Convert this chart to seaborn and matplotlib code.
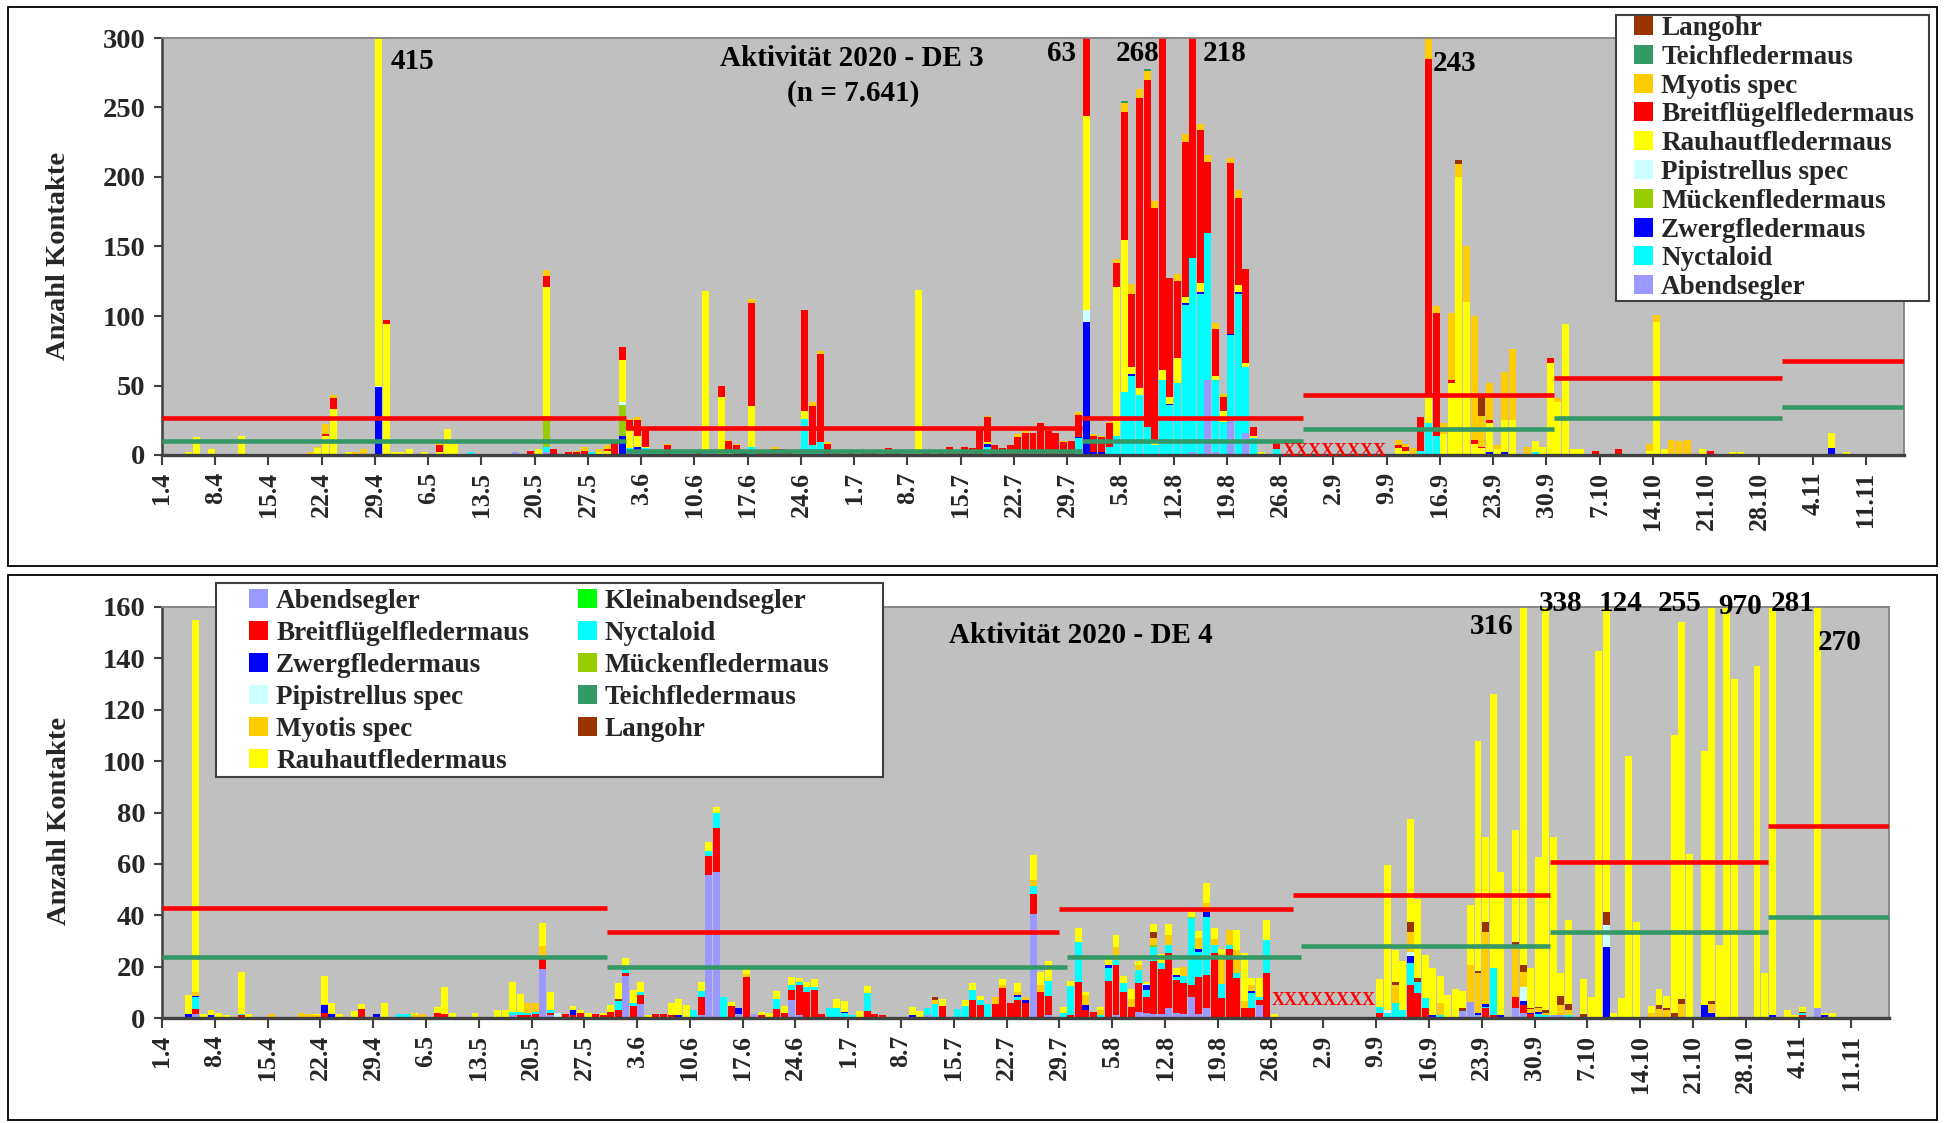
import numpy as np
import pandas as pd
import matplotlib
matplotlib.use("Agg")
import matplotlib.pyplot as plt
import seaborn as sns
from matplotlib.patches import Patch, Rectangle

sns.set_theme(style="white")
plt.rcParams['font.family'] = ['Liberation Serif', 'DejaVu Serif']
plt.rcParams['font.weight'] = 'bold'

# ---------------- categories ----------------
DATES = [f"{d.day}.{d.month}" for d in pd.date_range("2020-04-01", "2020-11-15")]
N = len(DATES)
TICK_LABELS = DATES[::7]

COLORS = {
    "Abendsegler": "#9999FF",
    "Kleinabendsegler": "#00FF00",
    "Breitflügelfledermaus": "#FF0000",
    "Nyctaloid": "#00FFFF",
    "Zwergfledermaus": "#0000FF",
    "Mückenfledermaus": "#99CC00",
    "Pipistrellus spec": "#CCFFFF",
    "Teichfledermaus": "#339966",
    "Myotis spec": "#FFCC00",
    "Langohr": "#993300",
    "Rauhautfledermaus": "#FFFF00",
}

# ---------------- DE 3 data (daily contacts) ----------------
DE3_ABENDSEGLER = {"3.5": 1, "17.5": 2, "21.5": 2, "1.6": 2, "5.6": 1, "8.6": 1, "12.6": 2, "4.8": 1,
                   "14.8": 2, "16.8": 54, "17.8": 2, "19.8": 27, "21.8": 16}
DE3_NYCTALOID = {"5.4": 1, "11.4": 0.5, "22.4": 1, "23.4": 1, "7.5": 1, "11.5": 2, "20.5": 1, "21.5": 4,
                 "27.5": 2, "1.6": 3, "2.6": 3, "3.6": 5, "4.6": 2, "5.6": 1, "7.6": 2, "11.6": 2, "17.6": 6,
                 "23.6": 1, "24.6": 26, "25.6": 7, "26.6": 9, "29.6": 1, "7.7": 1, "11.7": 1, "18.7": 6,
                 "30.7": 12, "3.8": 6, "4.8": 13, "5.8": 45, "6.8": 57, "7.8": 43, "8.8": 20, "9.8": 7,
                 "10.8": 54, "11.8": 36, "12.8": 52, "13.8": 108, "14.8": 140, "15.8": 116, "16.8": 106,
                 "17.8": 52, "18.8": 24, "19.8": 59, "20.8": 116, "21.8": 47, "22.8": 12, "25.8": 4,
                 "13.9": 3, "14.9": 23, "15.9": 14, "28.9": 2}
DE3_ZWERG = {"7.4": 1, "28.4": 1, "29.4": 49, "8.5": 1, "9.5": 1, "22.5": 1, "31.5": 14, "2.6": 3, "16.6": 3,
             "18.7": 2, "30.7": 1, "31.7": 96, "1.8": 2, "2.8": 2, "6.8": 1, "11.8": 1, "13.8": 1, "15.8": 1,
             "19.8": 1, "20.8": 1, "16.9": 1, "18.9": 1, "22.9": 2, "24.9": 2, "6.10": 1, "9.10": 1, "6.11": 5}
DE3_MUECKEN = {"21.5": 22, "31.5": 22}
DE3_PIPISTRELLUS = {"29.4": 1, "31.5": 2, "31.7": 8}
DE3_RAUHAUT = {"4.4": 2, "5.4": 12, "7.4": 3, "11.4": 13, "21.4": 5, "22.4": 13, "23.4": 32, "25.4": 2,
               "27.4": 1, "29.4": 365, "30.4": 94, "1.5": 2, "2.5": 2, "3.5": 3, "5.5": 2, "7.5": 1,
               "8.5": 18, "9.5": 7, "20.5": 3, "21.5": 93, "28.5": 2, "29.5": 3, "31.5": 30, "1.6": 13,
               "2.6": 8, "3.6": 1, "6.6": 1, "9.6": 1, "11.6": 116, "13.6": 42, "14.6": 3, "17.6": 29,
               "21.6": 1, "24.6": 6, "9.7": 119, "13.7": 1, "16.7": 1, "18.7": 1, "20.7": 1, "24.7": 1,
               "31.7": 140, "4.8": 107, "5.8": 110, "6.8": 5, "7.8": 5, "9.8": 2, "10.8": 7, "11.8": 5,
               "12.8": 18, "13.8": 5, "15.8": 7, "17.8": 3, "18.8": 8, "20.8": 5, "21.8": 3, "22.8": 2,
               "23.8": 2, "10.9": 5, "11.9": 3, "12.9": 1, "14.9": 19, "16.9": 14, "17.9": 52, "18.9": 199,
               "19.9": 110, "20.9": 8, "21.9": 5, "22.9": 21, "23.9": 4, "24.9": 23, "25.9": 25, "28.9": 8,
               "29.9": 6, "30.9": 66, "1.10": 38, "2.10": 94, "3.10": 4, "4.10": 4, "13.10": 3,
               "14.10": 96, "15.10": 4, "16.10": 1, "20.10": 4, "21.10": 1, "24.10": 2, "25.10": 2,
               "6.11": 11, "8.11": 2}
DE3_BREITFLUEGEL = {"22.4": 1, "23.4": 8, "30.4": 3, "7.5": 5, "19.5": 3, "21.5": 8, "22.5": 3, "24.5": 2,
                    "25.5": 2, "26.5": 3, "29.5": 1, "30.5": 10, "31.5": 10, "1.6": 7, "2.6": 11, "3.6": 13,
                    "6.6": 6, "10.6": 3, "13.6": 8, "14.6": 7, "15.6": 7, "17.6": 74, "18.6": 3, "19.6": 2,
                    "20.6": 4, "21.6": 3, "22.6": 2, "24.6": 72, "25.6": 28, "26.6": 64, "27.6": 8,
                    "28.6": 3, "30.6": 2, "2.7": 2, "3.7": 2, "5.7": 5, "6.7": 2, "10.7": 3, "12.7": 3,
                    "13.7": 5, "14.7": 3, "15.7": 6, "16.7": 4, "17.7": 18, "18.7": 18, "19.7": 7,
                    "20.7": 4, "21.7": 7, "22.7": 13, "23.7": 16, "24.7": 15, "25.7": 23, "26.7": 17,
                    "27.7": 16, "28.7": 9, "29.7": 10, "30.7": 16, "31.7": 63, "1.8": 12, "2.8": 11,
                    "3.8": 17, "4.8": 17, "5.8": 92, "6.8": 53, "7.8": 209, "8.8": 250, "9.8": 169,
                    "10.8": 268, "11.8": 85, "12.8": 55, "13.8": 111, "14.8": 218, "15.8": 110, "16.8": 51,
                    "17.8": 34, "18.8": 10, "19.8": 123, "20.8": 63, "21.8": 68, "22.8": 6, "25.8": 5,
                    "10.9": 2, "11.9": 3, "13.9": 24, "14.9": 243, "15.9": 88, "17.9": 2, "20.9": 3,
                    "21.9": 1, "22.9": 2, "30.9": 4, "6.10": 2, "9.10": 3, "18.10": 1, "21.10": 2}
DE3_MYOTIS = {"20.4": 2, "21.4": 1, "22.4": 7, "23.4": 2, "26.4": 2, "27.4": 3, "7.5": 2, "21.5": 4,
              "25.5": 1, "26.5": 3, "28.5": 2, "29.5": 3, "1.6": 1, "2.6": 2, "6.6": 1, "14.6": 1, "15.6": 1,
              "17.6": 3, "20.6": 2, "25.6": 3, "26.6": 2, "27.6": 1, "18.7": 1, "22.7": 2, "23.7": 2,
              "28.7": 1, "30.7": 2, "1.8": 1, "2.8": 1, "3.8": 1, "4.8": 3, "5.8": 6, "6.8": 7, "7.8": 6,
              "8.8": 6, "9.8": 5, "12.8": 5, "13.8": 6, "15.8": 4, "16.8": 5, "17.8": 4, "18.8": 2,
              "19.8": 4, "20.8": 6, "10.9": 4, "11.9": 2, "12.9": 4, "14.9": 20, "15.9": 5, "16.9": 8,
              "17.9": 48, "18.9": 9, "19.9": 40, "20.9": 89, "21.9": 22, "22.9": 27, "23.9": 3,
              "24.9": 35, "25.9": 51, "27.9": 6, "1.10": 3, "13.10": 5, "14.10": 5, "16.10": 10,
              "17.10": 10, "18.10": 10}
DE3_TEICH = {"5.8": 2, "8.8": 2}
DE3_LANGOHR = {"18.9": 3, "21.9": 15}

DE3_SERIES = {
    "Abendsegler": DE3_ABENDSEGLER, "Nyctaloid": DE3_NYCTALOID, "Zwergfledermaus": DE3_ZWERG,
    "Mückenfledermaus": DE3_MUECKEN, "Pipistrellus spec": DE3_PIPISTRELLUS,
    "Rauhautfledermaus": DE3_RAUHAUT, "Breitflügelfledermaus": DE3_BREITFLUEGEL,
    "Myotis spec": DE3_MYOTIS, "Teichfledermaus": DE3_TEICH, "Langohr": DE3_LANGOHR,
}
DE3_STACK = list(DE3_SERIES.keys())

# period reference lines DE 3
DE3_PERIOD_START = ["1.4", "1.6", "31.7", "29.8", "1.10", "31.10"]
DE3_RED = [26.6, 19.4, 26.6, 43.2, 55.4, 67.6]
DE3_GREEN = [10.0, 3.1, 10.3, 18.7, 26.6, 34.5]

# ---------------- DE 4 data ----------------
DE4_ABENDSEGLER = {"5.4": 1.5, "17.5": 1, "21.5": 19, "22.5": 1, "1.6": 16.5, "3.6": 5.6, "11.6": 1,
                   "12.6": 55.6, "13.6": 57, "16.6": 1.5, "18.6": 1.5, "23.6": 7, "24.6": 1, "30.6": 0.5,
                   "11.7": 1, "25.7": 40.5, "27.7": 1, "5.8": 1, "8.8": 2.5, "9.8": 1.8, "10.8": 1.5,
                   "11.8": 1.5, "12.8": 3.8, "13.8": 2, "14.8": 1.5, "15.8": 8.3, "16.8": 1.5, "17.8": 3.8,
                   "24.8": 5, "20.9": 2.9, "21.9": 6.4, "22.9": 1, "27.9": 3.8, "28.9": 2, "2.10": 1,
                   "3.10": 1, "6.11": 3.8}
DE4_KLEINABENDSEGLER = {}
DE4_BREITFLUEGEL = {"5.4": 2, "11.4": 1, "22.4": 2, "27.4": 3.4, "7.5": 2, "8.5": 1.5, "18.5": 1, "19.5": 1,
                    "20.5": 1.5, "21.5": 4, "22.5": 1, "24.5": 1.5, "25.5": 1, "26.5": 2, "28.5": 1.5,
                    "29.5": 1, "30.5": 2.3, "31.5": 3, "1.6": 1, "2.6": 4.8, "3.6": 3.2, "5.6": 1.5,
                    "6.6": 1.5, "7.6": 1, "11.6": 7, "12.6": 7.4, "13.6": 17, "15.6": 4.8, "17.6": 16,
                    "19.6": 1, "21.6": 3.4, "22.6": 2, "23.6": 4, "24.6": 12, "25.6": 10, "26.6": 11,
                    "27.6": 1.5, "3.7": 2.7, "4.7": 1.5, "5.7": 1, "13.7": 4.8, "16.7": 0.5, "17.7": 7,
                    "18.7": 5, "20.7": 5.5, "21.7": 11.7, "22.7": 6, "23.7": 7, "24.7": 6, "25.7": 7.8,
                    "26.7": 10, "27.7": 7.5, "30.7": 1, "31.7": 14, "1.8": 3, "2.8": 2.5, "4.8": 14.4,
                    "5.8": 19.6, "6.8": 10.2, "7.8": 4.4, "8.8": 11, "9.8": 6.5, "10.8": 20.5, "11.8": 17.5,
                    "12.8": 21.4, "13.8": 12.8, "14.8": 12, "15.8": 4.5, "16.8": 14.5, "17.8": 12.9,
                    "18.8": 25.2, "19.8": 7.6, "20.8": 26.7, "21.8": 15.4, "22.8": 3.8, "23.8": 3.8,
                    "24.8": 2, "25.8": 17.4, "9.9": 2, "10.9": 0.5, "13.9": 12.8, "14.9": 9.9, "15.9": 3.8,
                    "23.9": 3.8, "24.9": 1, "27.9": 4.5, "28.9": 3, "29.9": 1.5, "30.9": 0.5, "4.11": 1}
DE4_NYCTALOID = {"5.4": 4.5, "11.4": 0.5, "2.5": 1.5, "3.5": 1.5, "17.5": 1.5, "18.5": 1.5, "19.5": 1,
                 "20.5": 1, "21.5": 1, "22.5": 1, "31.5": 3.5, "1.6": 1.5, "2.6": 1.2, "3.6": 1.2, "10.6": 3,
                 "11.6": 2.5, "12.6": 2, "13.6": 6, "14.6": 8, "21.6": 4, "23.6": 2, "24.6": 1, "25.6": 2,
                 "26.6": 1, "28.6": 4, "29.6": 4, "30.6": 1.5, "1.7": 1, "3.7": 7, "11.7": 3, "12.7": 5.5,
                 "15.7": 3.4, "16.7": 4.3, "17.7": 4, "18.7": 2, "19.7": 5.5, "23.7": 1.3, "25.7": 2.9,
                 "27.7": 6, "29.7": 2, "30.7": 11.5, "31.7": 15.7, "3.8": 1, "4.8": 4.9, "5.8": 2,
                 "6.8": 3.3, "8.8": 5.2, "9.8": 2.6, "10.8": 5.8, "11.8": 2.5, "12.8": 3.2, "13.8": 1,
                 "14.8": 3, "15.8": 26, "16.8": 9.8, "17.8": 22.7, "18.8": 3.2, "19.8": 5.8, "20.8": 1.7,
                 "21.8": 2, "23.8": 5.8, "24.8": 1, "25.8": 13, "9.9": 2.4, "10.9": 1.5, "11.9": 5.7,
                 "12.9": 3, "13.9": 8.5, "14.9": 4.2, "15.9": 3.9, "17.9": 1, "23.9": 0.4, "24.9": 18.3,
                 "30.9": 1, "1.10": 1, "4.10": 1.3, "4.11": 1}
DE4_ZWERG = {"4.4": 1.5, "5.4": 0.5, "6.4": 0.5, "7.4": 1, "22.4": 3, "23.4": 1.5, "29.4": 1.5, "25.5": 2,
             "8.6": 1, "16.6": 2.5, "30.6": 0.5, "9.7": 1, "23.7": 0.5, "24.7": 1, "1.8": 2, "4.8": 1.3,
             "9.8": 1.9, "13.8": 1, "16.8": 0.9, "17.8": 2, "23.8": 0.8, "13.9": 2.8, "16.9": 1, "22.9": 1,
             "23.9": 1.3, "25.9": 1, "28.9": 1.5, "29.9": 0.5, "30.9": 1, "9.10": 27.8, "22.10": 5,
             "23.10": 1.8, "31.10": 1, "2.11": 0.5, "7.11": 1}
DE4_MUECKEN = {"10.8": 0.5, "15.8": 0.5}
DE4_PIPISTRELLUS = {"23.5": 2, "9.8": 0.5, "10.9": 1, "13.9": 1.7, "28.9": 5.6, "9.10": 8.4}
DE4_TEICH = {}
DE4_MYOTIS = {"5.4": 1.5, "15.4": 1.5, "19.4": 2, "20.4": 1.5, "21.4": 1, "22.4": 0.5, "4.5": 1, "5.5": 1.5,
              "19.5": 4, "20.5": 3.5, "21.5": 4, "17.6": 1, "12.7": 1.4, "20.7": 2.7, "21.7": 1, "23.7": 1.5,
              "24.7": 1, "25.7": 2.6, "26.7": 3, "1.8": 4, "3.8": 2, "5.8": 5, "7.8": 3, "8.8": 2,
              "10.8": 3, "12.8": 3.9, "14.8": 3.5, "16.8": 4.3, "17.8": 3.2, "18.8": 2.2, "19.8": 11.7,
              "20.8": 5.8, "21.8": 9.1, "22.8": 3, "23.8": 2.5, "11.9": 7.1, "13.9": 7.8, "17.9": 5,
              "21.9": 14.2, "22.9": 15.4, "23.9": 28.1, "27.9": 20.1, "28.9": 5.8, "29.9": 1.5,
              "30.9": 1.3, "1.10": 1, "3.10": 4, "4.10": 2, "15.10": 2, "16.10": 3.5, "17.10": 3,
              "19.10": 5.4, "23.10": 3.5}
DE4_LANGOHR = {"31.5": 1, "12.7": 1.4, "10.8": 2, "11.9": 1.2, "13.9": 3.9, "14.9": 1.5, "20.9": 1,
               "22.9": 1, "23.9": 3.9, "27.9": 1.3, "28.9": 2.9, "29.9": 0.5, "30.9": 0.5, "1.10": 1,
               "3.10": 3.5, "4.10": 2, "6.10": 1.5, "8.10": 0.5, "9.10": 5.2, "16.10": 1.5, "17.10": 1,
               "18.10": 2, "19.10": 1.9, "23.10": 1.5, "4.11": 0.5}
DE4_RAUHAUT = {"4.4": 7.5, "5.4": 145, "6.4": 1, "7.4": 2, "8.4": 2, "9.4": 1, "11.4": 16.5, "12.4": 1.5,
               "21.4": 0.5, "22.4": 11, "23.4": 4.5, "24.4": 1.5, "26.4": 2.7, "27.4": 2, "30.4": 6,
               "4.5": 1, "7.5": 2.3, "8.5": 10.5, "9.5": 2, "12.5": 2, "15.5": 3, "16.5": 3, "17.5": 11.5,
               "18.5": 6.7, "21.5": 9, "22.5": 7, "25.5": 1.5, "26.5": 1, "27.5": 2, "29.5": 1, "30.5": 2.6,
               "31.5": 6, "1.6": 4.3, "2.6": 5, "3.6": 4, "4.6": 1, "7.6": 5, "8.6": 6.5, "9.6": 5,
               "11.6": 3.5, "12.6": 3.4, "13.6": 2, "15.6": 1.4, "17.6": 2, "19.6": 1.5, "20.6": 2,
               "21.6": 3, "22.6": 2.8, "23.6": 3, "24.6": 1.5, "25.6": 2, "26.6": 3, "29.6": 3.5,
               "30.6": 4, "2.7": 2.7, "3.7": 2.7, "9.7": 3.4, "10.7": 2.7, "13.7": 2.7, "16.7": 2.3,
               "17.7": 2.5, "18.7": 1.5, "21.7": 2.3, "23.7": 3.2, "25.7": 9.6, "26.7": 5, "27.7": 7.5,
               "29.7": 2.4, "30.7": 2, "31.7": 5.3, "1.8": 1.2, "3.8": 1.4, "4.8": 3.9, "5.8": 4.7,
               "6.8": 3, "7.8": 3.8, "8.8": 1.5, "9.8": 0.8, "10.8": 3.3, "11.8": 3.5, "12.8": 4.3,
               "13.8": 2.5, "15.8": 2.7, "16.8": 3, "17.8": 7.8, "18.8": 4.4, "19.8": 1.6, "21.8": 7.7,
               "22.8": 18.4, "23.8": 2.5, "24.8": 7.4, "25.8": 7.6, "26.8": 1.4, "9.9": 10.6,
               "10.9": 56.5, "11.9": 12.5, "12.9": 19, "13.9": 39.8, "14.9": 30.6, "15.9": 16.8,
               "16.9": 18.3, "17.9": 10.3, "18.9": 9, "19.9": 11.2, "20.9": 6.7, "21.9": 23.4,
               "22.9": 89.6, "23.9": 32.8, "24.9": 106.7, "25.9": 56, "27.9": 43.3, "28.9": 316,
               "29.9": 15.3, "30.9": 58.2, "1.10": 338, "2.10": 69.3, "3.10": 8.9, "4.10": 32.7,
               "6.10": 13.5, "7.10": 8.3, "8.10": 142.5, "9.10": 124, "10.10": 1.8, "11.10": 7.7,
               "12.10": 102, "13.10": 37.5, "15.10": 2.5, "16.10": 6.2, "17.10": 4.6, "18.10": 108,
               "19.10": 146.7, "20.10": 64, "22.10": 99, "23.10": 255, "24.10": 28.4, "25.10": 970,
               "26.10": 132, "29.10": 137, "30.10": 17.4, "31.10": 281, "2.11": 2.6, "3.11": 1.2,
               "4.11": 1.9, "6.11": 270, "7.11": 1, "8.11": 2}

DE4_SERIES = {
    "Abendsegler": DE4_ABENDSEGLER, "Kleinabendsegler": DE4_KLEINABENDSEGLER,
    "Breitflügelfledermaus": DE4_BREITFLUEGEL, "Nyctaloid": DE4_NYCTALOID,
    "Zwergfledermaus": DE4_ZWERG, "Mückenfledermaus": DE4_MUECKEN,
    "Pipistrellus spec": DE4_PIPISTRELLUS, "Teichfledermaus": DE4_TEICH,
    "Myotis spec": DE4_MYOTIS, "Langohr": DE4_LANGOHR, "Rauhautfledermaus": DE4_RAUHAUT,
}
DE4_STACK = list(DE4_SERIES.keys())

DE4_RED_START = ["1.4", "30.5", "29.7", "29.8", "2.10", "31.10"]
DE4_RED = [42.7, 33.6, 42.6, 48.0, 60.6, 74.6]
DE4_GREEN_START = ["1.4", "30.5", "30.7", "30.8", "2.10", "31.10"]
DE4_GREEN = [23.6, 19.7, 23.6, 28.2, 33.3, 39.3]

# ---------------- figure ----------------
W, H = 1946, 1123
fig = plt.figure(figsize=(W / 100, H / 100), dpi=100)
fig.patch.set_facecolor("white")


def px_axes(l, t, r, b):
    return fig.add_axes([l / W, 1 - b / H, (r - l) / W, (b - t) / H])


def px_rect(l, t, r, b, **kw):
    fig.add_artist(Rectangle((l / W, 1 - b / H), (r - l) / W, (b - t) / H,
                             transform=fig.transFigure, **kw))


ax1 = px_axes(162, 38, 1904, 455)
ax2 = px_axes(162, 607, 1889, 1018)

for box in [(8, 7, 1937, 566), (8, 575, 1937, 1120)]:
    px_rect(*box, fill=False, edgecolor="black", lw=1.3, zorder=2)


def draw_stack(ax, series, stack):
    df = pd.DataFrame({"date": DATES, "pos": np.arange(N) + 0.5})
    for name in stack:
        df[name] = df["date"].map(series[name]).fillna(0.0).astype(float)
    cum = df[stack].cumsum(axis=1)
    for name in reversed(stack):
        sns.barplot(x=df["pos"], y=cum[name], native_scale=True, orient="x", color=COLORS[name],
                    saturation=1, width=0.92, errorbar=None, edgecolor="none", linewidth=0, ax=ax)


def period_lines(ax, starts, vals, color):
    idx = [DATES.index(s) for s in starts] + [N]
    for i, v in enumerate(vals):
        ax.hlines(v, idx[i], idx[i + 1], color=color, lw=3.3, zorder=6)


def style(ax, ymax, ystep):
    ax.set_facecolor("#C0C0C0")
    ax.set_xlim(0, N)
    ax.set_ylim(0, ymax)
    ax.set_xticks(np.arange(0, N, 7))
    ax.set_xticklabels(TICK_LABELS, rotation=90, fontsize=18.5, fontweight="bold")
    yt = np.arange(0, ymax + 1, ystep)
    ax.set_yticks(yt)
    ax.set_yticklabels([str(int(v)) for v in yt], fontsize=20.5, fontweight="bold")
    ax.tick_params(axis="x", direction="out", length=7, width=1.5, color="#404040", pad=5, bottom=True)
    ax.tick_params(axis="y", direction="out", length=6, width=1.5, color="#404040", pad=6, left=True)
    for s in ["top", "right"]:
        ax.spines[s].set_color("#808080")
        ax.spines[s].set_linewidth(1.3)
    ax.spines["left"].set_color("#404040")
    ax.spines["left"].set_linewidth(1.8)
    ax.spines["bottom"].set_color("#404040")
    ax.spines["bottom"].set_linewidth(2.4)
    ax.set_xlabel("")
    ax.set_ylabel("Anzahl Kontakte", fontsize=20.5, fontweight="bold")
    ax.grid(False)


# ----- top panel -----
draw_stack(ax1, DE3_SERIES, DE3_STACK)
period_lines(ax1, DE3_PERIOD_START, DE3_RED, "#FF0000")
period_lines(ax1, DE3_PERIOD_START, DE3_GREEN, "#339966")
style(ax1, 300, 50)
ax1.yaxis.set_label_coords(-0.052, 0.477)

lab = dict(fontsize=21, fontweight="bold", color="black", zorder=8)
ax1.text(30.0, 283, "415", ha="left", va="center", **lab)
ax1.text(120.2, 288.5, "63", ha="right", va="center", **lab)
ax1.text(128.2, 288.5, "268", ha="center", va="center", **lab)
ax1.text(139.7, 288.5, "218", ha="center", va="center", **lab)
ax1.text(167.1, 282, "243", ha="left", va="center", **lab)
ax1.text(90.7, 285.6, "Aktivität 2020 - DE 3", ha="center", va="center", **lab)
ax1.text(90.9, 260.4, "(n = 7.641)", ha="center", va="center", **lab)
ax1.text(154.2, 2.2, "XXXXXXXX", ha="center", va="center", fontsize=13, fontweight="bold",
         color="#FF0000", zorder=8)

# legend frames (drawn at figure level, under the figure legends)
px_rect(1616, 15, 1929, 301, facecolor="white", edgecolor="#404040", lw=1.5, zorder=3)
px_rect(216, 583, 883, 777, facecolor="white", edgecolor="#404040", lw=1.5, zorder=3)

top_order = ["Langohr", "Teichfledermaus", "Myotis spec", "Breitflügelfledermaus", "Rauhautfledermaus",
             "Pipistrellus spec", "Mückenfledermaus", "Zwergfledermaus", "Nyctaloid", "Abendsegler"]
h1 = [Patch(facecolor=COLORS[n], edgecolor="none") for n in top_order]
leg1 = fig.legend(h1, top_order, loc="upper left", bbox_to_anchor=(1634 / W, 1 - 16 / H),
                  bbox_transform=fig.transFigure, frameon=False, borderaxespad=0, borderpad=0,
                  fontsize=19.5, handlelength=0.7, handleheight=0.7, handletextpad=0.3,
                  labelspacing=0.14)
leg1.set_zorder(5)

# ----- bottom panel -----
draw_stack(ax2, DE4_SERIES, DE4_STACK)
period_lines(ax2, DE4_RED_START, DE4_RED, "#FF0000")
period_lines(ax2, DE4_GREEN_START, DE4_GREEN, "#339966")
style(ax2, 160, 20)
ax2.yaxis.set_label_coords(-0.0524, 0.479)

for txt, x, y in [("316", 176.3, 152.5), ("338", 185.4, 161.5), ("124", 193.4, 161.5),
                  ("255", 201.2, 161.5), ("970", 209.3, 160.0), ("281", 216.2, 161.5),
                  ("270", 222.5, 146.3)]:
    ax2.text(x, y, txt, ha="center", va="center", clip_on=False, **lab)
ax2.text(121.9, 149, "Aktivität 2020 - DE 4", ha="center", va="center", **lab)
ax2.text(154.0, 7.0, "XXXXXXXX", ha="center", va="center", fontsize=13, fontweight="bold",
         color="#FF0000", zorder=8)

bot_order = ["Abendsegler", "Breitflügelfledermaus", "Zwergfledermaus", "Pipistrellus spec", "Myotis spec",
             "Rauhautfledermaus", "Kleinabendsegler", "Nyctaloid", "Mückenfledermaus", "Teichfledermaus",
             "Langohr"]
h2 = [Patch(facecolor=COLORS[n], edgecolor="none") for n in bot_order]
leg2 = fig.legend(h2, bot_order, ncol=2, loc="upper left", bbox_to_anchor=(249 / W, 1 - 589 / H),
                  bbox_transform=fig.transFigure, frameon=False, borderaxespad=0, borderpad=0,
                  fontsize=19.5, handlelength=0.7, handleheight=0.7, handletextpad=0.3,
                  labelspacing=0.26, columnspacing=1.8)
leg2.set_zorder(5)

fig.savefig("out.png", dpi=100, facecolor="white")
